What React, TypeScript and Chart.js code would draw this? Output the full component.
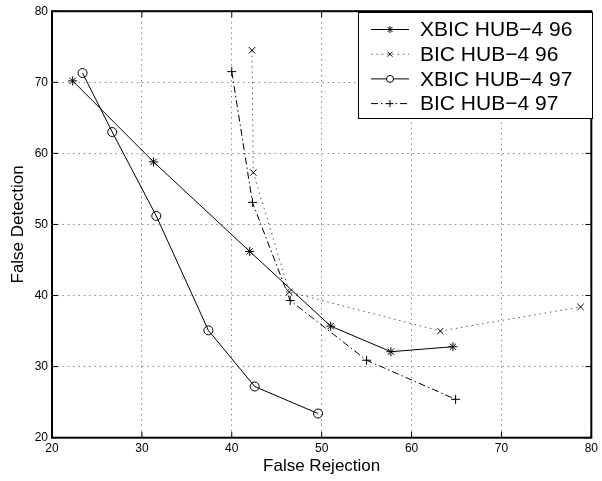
import React, { useEffect, useRef } from 'react';
import { Chart, registerables } from 'chart.js';
import { drawPoint } from 'chart.js/helpers';

Chart.register(...registerables);

// ---- data ----
const seriesLabels = ['XBIC HUB\u22124 96', 'BIC HUB\u22124 96', 'XBIC HUB\u22124 97', 'BIC HUB\u22124 97'];

const xbic96X = [22.3, 31.3, 42.0, 51.0, 57.7, 64.6];
const xbic96Y = [70.2, 58.8, 46.2, 35.7, 32.1, 32.8];

const bic96X = [42.25, 42.4, 46.4, 63.2, 78.8];
const bic96Y = [74.5, 57.3, 40.5, 35.0, 38.4];

const xbic97X = [23.4, 26.7, 31.6, 37.4, 42.55, 49.6];
const xbic97Y = [71.3, 63.0, 51.2, 35.1, 27.2, 23.4];

const bic97X = [40.0, 42.3, 46.5, 55.0, 64.9];
const bic97Y = [71.5, 53.1, 39.3, 30.9, 25.4];

const xTicks = [20, 30, 40, 50, 60, 70, 80];
const yTicks = [20, 30, 40, 50, 60, 70, 80];

const xTitle = 'False Rejection';
const yTitle = 'False Detection';

const FONT = '"Liberation Sans", Arial, Helvetica, sans-serif';

const pts = (xs: number[], ys: number[]) => xs.map((x, i) => ({ x, y: ys[i] }));

const styles = [
  { dash: [] as number[], point: 'star', radius: 4.5, line: '#000' },
  { dash: [1.5, 3.8], point: 'crossRot', radius: 4.5, line: '#555' },
  { dash: [] as number[], point: 'circle', radius: 4.5, line: '#000' },
  { dash: [7, 3, 1.5, 3], point: 'cross', radius: 4.5, line: '#000' },
];

const framePlugin = {
  id: 'frame',
  afterDraw(chart: any) {
    const { ctx, chartArea: a, scales } = chart;
    ctx.save();
    ctx.strokeStyle = '#000';
    ctx.lineWidth = 1;
    ctx.setLineDash([]);
    const tl = 6;
    ctx.beginPath();
    xTicks.forEach((v) => {
      const px = scales.x.getPixelForValue(v);
      ctx.moveTo(px, a.top);
      ctx.lineTo(px, a.top + tl);
      ctx.moveTo(px, a.bottom);
      ctx.lineTo(px, a.bottom - tl);
    });
    yTicks.forEach((v) => {
      const py = scales.y.getPixelForValue(v);
      ctx.moveTo(a.left, py);
      ctx.lineTo(a.left + tl, py);
      ctx.moveTo(a.right, py);
      ctx.lineTo(a.right - tl, py);
    });
    ctx.stroke();
    ctx.lineWidth = 2;
    ctx.strokeRect(a.left, a.top, a.right - a.left, a.bottom - a.top);

    // axis titles
    ctx.fillStyle = '#000';
    ctx.font = `17px ${FONT}`;
    ctx.textAlign = 'center';
    ctx.textBaseline = 'middle';
    ctx.fillText(xTitle, (a.left + a.right) / 2, 466);
    ctx.translate(18, (a.top + a.bottom) / 2);
    ctx.rotate(-Math.PI / 2);
    ctx.fillText(yTitle, 0, 0);
    ctx.restore();

    // legend
    ctx.save();
    const lx = 358.5, ly = 12.5, lw = 234, lh = 106;
    ctx.fillStyle = '#fff';
    ctx.fillRect(lx, ly, lw, lh);
    ctx.strokeStyle = '#000';
    ctx.lineWidth = 1;
    ctx.strokeRect(lx, ly, lw, lh);
    chart.data.datasets.forEach((ds: any, i: number) => {
      const y = 29.5 + i * 24.7;
      const st = styles[i];
      ctx.strokeStyle = st.line;
      ctx.lineWidth = 1;
      ctx.setLineDash(st.dash);
      ctx.beginPath();
      ctx.moveTo(371, y);
      ctx.lineTo(409, y);
      ctx.stroke();
      ctx.setLineDash([]);
      ctx.strokeStyle = '#000';
      ctx.fillStyle = '#fff';
      drawPoint(ctx, { pointStyle: st.point, radius: 3.5, borderWidth: 1, rotation: 0 } as any, 390, y);
      ctx.fillStyle = '#000';
      ctx.font = `21px ${FONT}`;
      ctx.textAlign = 'left';
      ctx.textBaseline = 'middle';
      ctx.fillText(ds.label, 420, y + 1);
    });
    ctx.restore();
  },
};

export default function App() {
  const ref = useRef<HTMLCanvasElement | null>(null);

  useEffect(() => {
    if (!ref.current) return;
    const data = [pts(xbic96X, xbic96Y), pts(bic96X, bic96Y), pts(xbic97X, xbic97Y), pts(bic97X, bic97Y)];
    const chart = new Chart(ref.current, {
      type: 'scatter',
      data: {
        datasets: data.map((d, i) => ({
          label: seriesLabels[i],
          data: d,
          showLine: true,
          borderColor: styles[i].line,
          borderWidth: 1,
          borderDash: styles[i].dash,
          pointStyle: styles[i].point as any,
          pointRadius: styles[i].radius,
          pointBorderColor: '#000',
          pointBackgroundColor: 'rgba(0,0,0,0)',
          pointBorderWidth: 1,
          tension: 0,
          clip: false as any,
        })),
      },
      options: {
        animation: false,
        responsive: false,
        devicePixelRatio: 1,
        layout: { padding: { top: 7, right: 4, left: 0, bottom: 0 }, autoPadding: false } as any,
        plugins: { legend: { display: false }, tooltip: { enabled: false } },
        scales: {
          x: {
            type: 'linear',
            min: 20,
            max: 80,
            afterBuildTicks: (s: any) => { s.ticks = xTicks.map((v) => ({ value: v })); },
            afterFit: (s: any) => { s.height = 43.3; },
            ticks: { color: '#000', font: { family: FONT, size: 12 }, padding: 4, maxRotation: 0, autoSkip: false },
            grid: { color: '#888', lineWidth: 1, drawTicks: false },
            border: { display: false, dash: [1.5, 3.8] },
          },
          y: {
            type: 'linear',
            min: 20,
            max: 80,
            afterBuildTicks: (s: any) => { s.ticks = yTicks.map((v) => ({ value: v })); },
            afterFit: (s: any) => { s.width = 52; },
            ticks: { color: '#000', font: { family: FONT, size: 12 }, padding: 4, autoSkip: false },
            grid: { color: '#888', lineWidth: 1, drawTicks: false },
            border: { display: false, dash: [1.5, 3.8] },
          },
        },
      },
      plugins: [framePlugin],
    });
    return () => chart.destroy();
  }, []);

  return (
    <div style={{ position: 'absolute', left: 0, top: 0, width: 602, height: 481, background: '#fff' }}>
      <canvas ref={ref} width={602} height={481} style={{ display: 'block' }} />
    </div>
  );
}
